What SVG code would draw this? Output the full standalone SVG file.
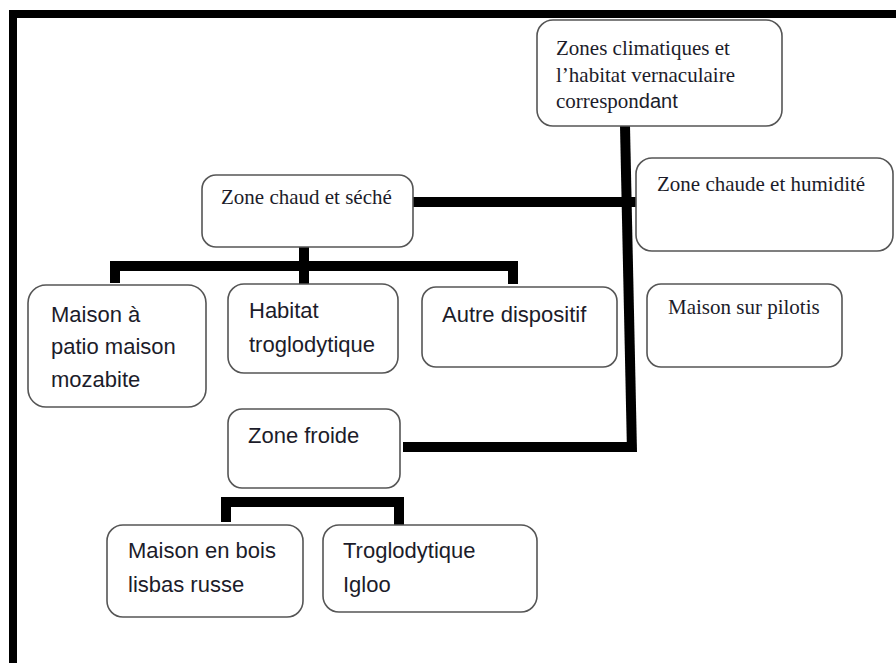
<svg xmlns="http://www.w3.org/2000/svg" width="896" height="663" viewBox="0 0 896 663">
<style>
.box{fill:#fff;stroke:#555;stroke-width:1.6}
.serif{font-family:"Liberation Serif","Times New Roman",serif;font-size:21px;fill:#1c1c2a}
.sans{font-family:"Liberation Sans",Arial,sans-serif;font-size:22px;fill:#1c1c2a}
.con{stroke:#000;stroke-width:10;fill:none;stroke-linecap:butt;stroke-linejoin:miter}
</style>
<rect x="0" y="0" width="896" height="663" fill="#fff"/>
<g id="frame">
<rect x="9" y="10" width="887" height="8" fill="#000"/>
<rect x="9" y="10" width="8" height="653" fill="#000"/>
</g>
<g id="connectors">
<line class="con" x1="625" y1="126" x2="632" y2="452"/>
<line class="con" x1="413" y1="202" x2="640" y2="202"/>
<polyline class="con" points="403,447 632,447"/>
<line class="con" x1="304" y1="247" x2="304" y2="284"/>
<polyline class="con" points="115,283 115,266 513,266 513,284"/>
<polyline class="con" points="226,522 226,502 399,502 399,525"/>
</g>
<g id="root">
<rect class="box" x="537" y="20" width="245" height="106" rx="16"/>
<text class="serif" x="556" y="55">Zones climatiques et</text>
<text class="serif" x="556" y="82">l’habitat vernaculaire</text>
<text class="serif" x="556" y="108">correspon<tspan font-family="Liberation Sans, Arial, sans-serif" font-size="20">dant</tspan></text>
</g>
<g id="zone-chaud-seche">
<rect class="box" x="202" y="175" width="211" height="72" rx="14"/>
<text class="serif" x="221" y="204">Zone chaud et séché</text>
</g>
<g id="zone-chaude-humide">
<rect class="box" x="636" y="158" width="257" height="93" rx="16"/>
<text class="serif" x="657" y="191">Zone chaude et humidité</text>
</g>
<g id="maison-patio">
<rect class="box" x="28" y="285" width="178" height="122" rx="18"/>
<text class="sans" x="51" y="322">Maison à</text>
<text class="sans" x="51" y="354">patio maison</text>
<text class="sans" x="51" y="387">mozabite</text>
</g>
<g id="habitat-troglodytique">
<rect class="box" x="228" y="284" width="170" height="89" rx="16"/>
<text class="sans" x="249" y="318">Habitat</text>
<text class="sans" x="249" y="352">troglodytique</text>
</g>
<g id="autre-dispositif">
<rect class="box" x="422" y="287" width="195" height="80" rx="14"/>
<text class="sans" x="442" y="322">Autre dispositif</text>
</g>
<g id="maison-pilotis">
<rect class="box" x="647" y="284" width="195" height="83" rx="14"/>
<text class="serif" x="668" y="314">Maison sur pilotis</text>
</g>
<g id="zone-froide">
<rect class="box" x="228" y="409" width="172" height="79" rx="14"/>
<text class="sans" x="248" y="443">Zone froide</text>
</g>
<g id="maison-bois">
<rect class="box" x="107" y="525" width="196" height="92" rx="16"/>
<text class="sans" x="128" y="558">Maison en bois</text>
<text class="sans" x="128" y="592">lisbas russe</text>
</g>
<g id="troglodytique-igloo">
<rect class="box" x="323" y="525" width="214" height="87" rx="16"/>
<text class="sans" x="343" y="558">Troglodytique</text>
<text class="sans" x="343" y="592">Igloo</text>
</g>
</svg>
